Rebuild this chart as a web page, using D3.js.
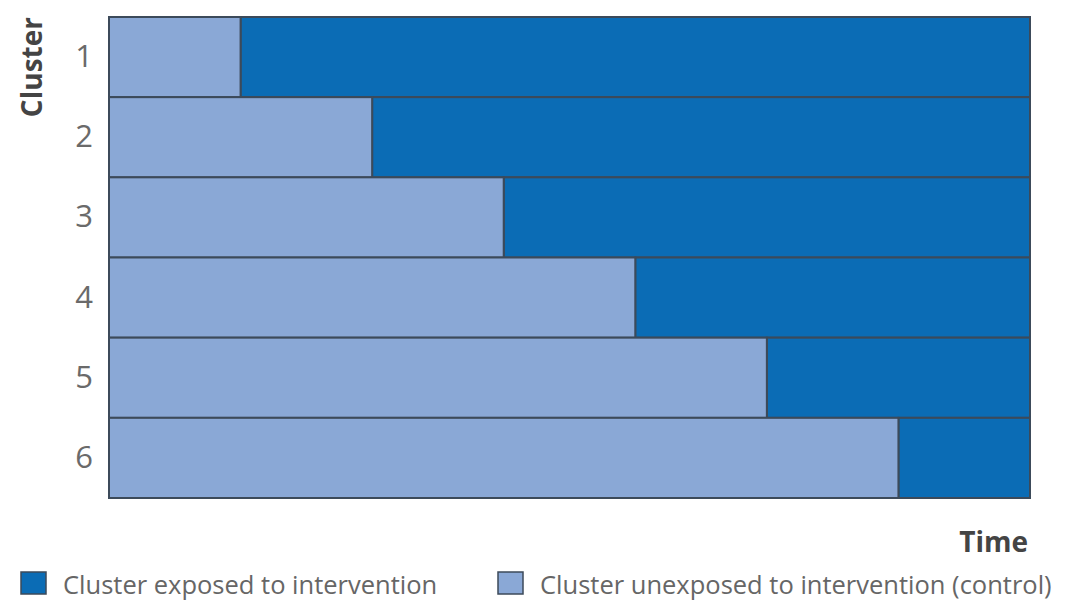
<!DOCTYPE html>
<html>
<head>
<meta charset="utf-8">
<script src="https://cdn.jsdelivr.net/npm/d3@7"></script>
<style>
  body { margin: 0; background: #fff; }
  text { font-family: "Open Sans", "Noto Sans", sans-serif; }
</style>
</head>
<body>
<div id="chart-area"></div>
<script>
// stepped wedge: each cluster switches from control to intervention at a later period
var clusters = ["1", "2", "3", "4", "5", "6"];
var switchPeriod = [1, 2, 3, 4, 5, 6];   // period at which cluster becomes exposed
var totalPeriods = 7;
var legendLabels = ["Cluster exposed to intervention", "Cluster unexposed to intervention (control)"];

var colExposed = "#0b6cb5";
var colControl = "#8aa8d6";
var colStroke = "#3c4a5a";

var svgW = 1071, svgH = 602;
var margin = { top: 17, right: 41, bottom: 104, left: 109 };
var width = svgW - margin.left - margin.right;
var height = svgH - margin.top - margin.bottom;

var svg = d3.select("#chart-area")
    .append("svg")
        .attr("width", svgW)
        .attr("height", svgH)
        .style("display", "block");

var g = svg.append("g")
    .attr("transform", "translate(" + margin.left + ", " + margin.top + ")");

var x = d3.scaleLinear()
    .domain([0, totalPeriods])
    .range([0, width]);

var y = d3.scaleBand()
    .domain(clusters)
    .range([0, height])
    .padding(0);

var rows = clusters.map((c, i) => ({ cluster: c, sw: switchPeriod[i] }));

// exposed part
g.selectAll("rect.exposed")
    .data(rows)
    .enter()
    .append("rect")
        .attr("class", "exposed")
        .attr("x", d => x(d.sw))
        .attr("y", d => y(d.cluster))
        .attr("width", d => x(totalPeriods) - x(d.sw))
        .attr("height", y.bandwidth())
        .style("fill", colExposed)
        .style("stroke", colStroke)
        .style("stroke-width", 2);

// control part
g.selectAll("rect.control")
    .data(rows)
    .enter()
    .append("rect")
        .attr("class", "control")
        .attr("x", x(0))
        .attr("y", d => y(d.cluster))
        .attr("width", d => x(d.sw) - x(0))
        .attr("height", y.bandwidth())
        .style("fill", colControl)
        .style("stroke", colStroke)
        .style("stroke-width", 2);

// y axis labels (no line, no ticks)
var yAxisCall = d3.axisLeft(y).tickSize(0).tickPadding(16);
var yAx = g.append("g")
    .attr("class", "y-axis")
    .call(yAxisCall);
yAx.select(".domain").remove();
yAx.selectAll("text")
    .style("font-size", "31px")
    .style("font-family", "'Open Sans', sans-serif")
    .style("fill", "#6a6a6a");

// axis titles
svg.append("text")
    .attr("transform", "translate(42, 17) rotate(-90)")
    .attr("text-anchor", "end")
    .style("font-size", "28px")
    .style("font-weight", "bold")
    .style("fill", "#444")
    .text("Cluster");

svg.append("text")
    .attr("x", margin.left + width - 2)
    .attr("y", 552)
    .attr("text-anchor", "end")
    .style("font-size", "28px")
    .style("font-weight", "bold")
    .style("fill", "#444")
    .text("Time");

// legend
var legendX = [20, 497];
var legendCols = [colExposed, colControl];
var leg = svg.selectAll("g.legend")
    .data(legendLabels)
    .enter()
    .append("g")
        .attr("class", "legend")
        .attr("transform", (d, i) => "translate(" + legendX[i] + ", 571)");

leg.append("rect")
    .attr("x", 1)
    .attr("y", 1)
    .attr("width", 25)
    .attr("height", 22)
    .style("fill", (d, i) => legendCols[i])
    .style("stroke", colStroke)
    .style("stroke-width", 1.5);

leg.append("text")
    .attr("x", 43)
    .attr("y", 23)
    .style("font-size", "25.5px")
    .style("fill", "#666")
    .text(d => d);
</script>
</body>
</html>
